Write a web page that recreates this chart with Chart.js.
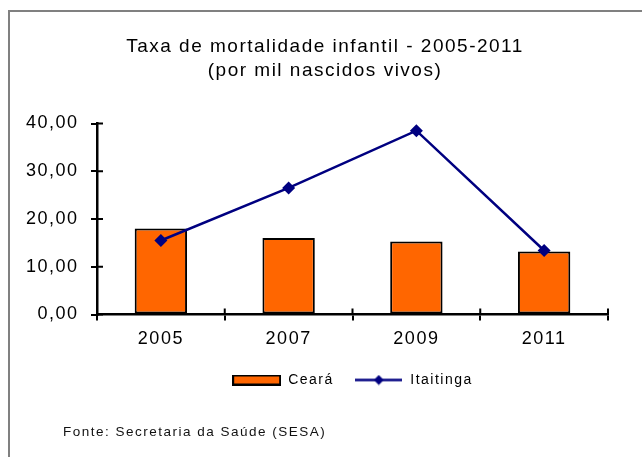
<!DOCTYPE html>
<html>
<head>
<meta charset="utf-8">
<script src="https://cdn.jsdelivr.net/npm/chart.js@4"></script>
<style>
  html, body { margin: 0; padding: 0; background: #fff; }
  #wrap { position: relative; width: 642px; height: 457px; }
</style>
</head>
<body>
<div id="wrap"><canvas id="mortChart"></canvas></div>
<script>
// --- data ---
const years = ['2005', '2007', '2009', '2011'];
const ceara = [18.0, 16.0, 15.3, 13.2];
const itaitinga = [15.5, 26.5, 38.5, 13.4];
const yTicks = [0, 10, 20, 30, 40];
const titleLines = ['Taxa de mortalidade infantil - 2005-2011', '(por mil nascidos vivos)'];
const sourceNote = 'Fonte: Secretaria da Saúde (SESA)';

const FONT = '"Liberation Sans", Arial, sans-serif';
const NAVY = '#000080';
const ORANGE = '#FF6600';

// legend swatches (bar box / line with diamond)
const barImg = document.createElement('canvas');
barImg.width = 49; barImg.height = 11;
(function () {
    const c = barImg.getContext('2d');
    c.fillStyle = ORANGE;
    c.fillRect(1, 1, 47, 9);
    c.strokeStyle = '#000';
    c.lineWidth = 2;
    c.strokeRect(1, 1, 47, 9);
})();

const lineImg = document.createElement('canvas');
lineImg.width = 47; lineImg.height = 11;
(function () {
    const c = lineImg.getContext('2d');
    c.strokeStyle = NAVY;
    c.lineWidth = 2.5;
    c.beginPath(); c.moveTo(0, 5.5); c.lineTo(47, 5.5); c.stroke();
    c.fillStyle = NAVY;
    c.beginPath();
    c.moveTo(23.5, 0.5); c.lineTo(28.5, 5.5); c.lineTo(23.5, 10.5); c.lineTo(18.5, 5.5);
    c.closePath(); c.fill();
})();

// wider letter spacing like the original export
const spacingPlugin = {
    id: 'spacing',
    beforeUpdate(chart) { chart.ctx.letterSpacing = '1.5px'; },
    beforeDraw(chart) { chart.ctx.letterSpacing = '1.5px'; }
};

// frame, title and source note
const decorPlugin = {
    id: 'decor',
    beforeDraw(chart) {
        const ctx = chart.ctx;
        ctx.save();
        ctx.fillStyle = '#fff';
        ctx.fillRect(0, 0, chart.width, chart.height);
        ctx.strokeStyle = '#808080';
        ctx.lineWidth = 2;
        ctx.strokeRect(9, 11, chart.width + 20, chart.height + 20);
        ctx.restore();
    },
    afterDraw(chart) {
        const ctx = chart.ctx;
        ctx.save();
        ctx.fillStyle = '#000';
        ctx.textBaseline = 'middle';
        ctx.textAlign = 'center';
        ctx.font = '19px ' + FONT;
        titleLines.forEach((t, i) => ctx.fillText(t, 325, 47 + i * 24));
        ctx.textAlign = 'left';
        ctx.font = '13.5px ' + FONT;
        ctx.fillStyle = '#111';
        ctx.fillText(sourceNote, 63, 432);
        ctx.restore();
    }
};

// inner half of the tick marks (ticks cross the axes)
const crossTicks = {
    id: 'crossTicks',
    afterDatasetsDraw(chart) {
        const ctx = chart.ctx;
        const x = chart.scales.x, y = chart.scales.y;
        const area = chart.chartArea;
        ctx.save();
        ctx.strokeStyle = '#000';
        ctx.lineWidth = 2;
        ctx.beginPath();
        y.ticks.forEach(t => {
            const py = y.getPixelForValue(t.value);
            ctx.moveTo(area.left, py); ctx.lineTo(area.left + 6, py);
        });
        for (let i = 0; i <= years.length; i++) {
            const px = x.getPixelForValue(i - 0.5);
            ctx.moveTo(px, area.bottom); ctx.lineTo(px, area.bottom - 6);
        }
        ctx.stroke();
        ctx.restore();
    }
};

const ctx = document.getElementById('mortChart').getContext('2d');
new Chart(ctx, {
    type: 'bar',
    data: {
        labels: years,
        datasets: [
            {
                type: 'bar',
                label: 'Ceará',
                data: ceara,
                backgroundColor: ORANGE,
                borderColor: '#000',
                borderWidth: 2,
                borderSkipped: false,
                barPercentage: 0.41,
                categoryPercentage: 1,
                order: 1
            },
            {
                type: 'line',
                label: 'Itaitinga',
                data: itaitinga,
                borderColor: NAVY,
                borderWidth: 2.5,
                backgroundColor: NAVY,
                pointStyle: 'rectRot',
                pointRadius: 6.5,
                pointBorderWidth: 0,
                pointBackgroundColor: NAVY,
                tension: 0,
                order: 0
            }
        ]
    },
    options: {
        responsive: true,
        maintainAspectRatio: false,
        animation: false,
        layout: { padding: { top: 123.5, left: 0, right: 34, bottom: 60 } },
        scales: {
            x: {
                grid: {
                    offset: true,
                    drawOnChartArea: false,
                    drawTicks: true,
                    tickLength: 6,
                    color: '#000',
                    lineWidth: 2
                },
                border: { display: true, color: '#000', width: 2.5 },
                ticks: { color: '#000', font: { family: FONT, size: 18 }, padding: 8 },
                afterFit: scale => { scale.height = 38; }
            },
            y: {
                min: 0,
                max: 40,
                grid: {
                    drawOnChartArea: false,
                    drawTicks: true,
                    tickLength: 6,
                    color: '#000',
                    lineWidth: 2
                },
                border: { display: true, color: '#000', width: 2.5 },
                afterBuildTicks: scale => { scale.ticks = yTicks.map(v => ({ value: v })); },
                ticks: {
                    color: '#000',
                    font: { family: FONT, size: 18 },
                    padding: 12.5,
                    callback: v => v.toFixed(2).replace('.', ',')
                },
                afterFit: scale => { scale.width = 97; }
            }
        },
        plugins: {
            title: { display: false },
            tooltip: { enabled: false },
            legend: {
                position: 'bottom',
                fullSize: false,
                labels: {
                    color: '#000',
                    font: { family: FONT, size: 14 },
                    usePointStyle: true,
                    pointStyleWidth: 49,
                    padding: 20.5,
                    sort: (a, b) => a.datasetIndex - b.datasetIndex,
                    generateLabels: chart => {
                        const items = Chart.defaults.plugins.legend.labels.generateLabels(chart);
                        items.forEach(it => {
                            it.pointStyle = it.datasetIndex === 0 ? barImg : lineImg;
                        });
                        return items;
                    }
                }
            }
        }
    },
    plugins: [spacingPlugin, decorPlugin, crossTicks]
});
</script>
</body>
</html>
